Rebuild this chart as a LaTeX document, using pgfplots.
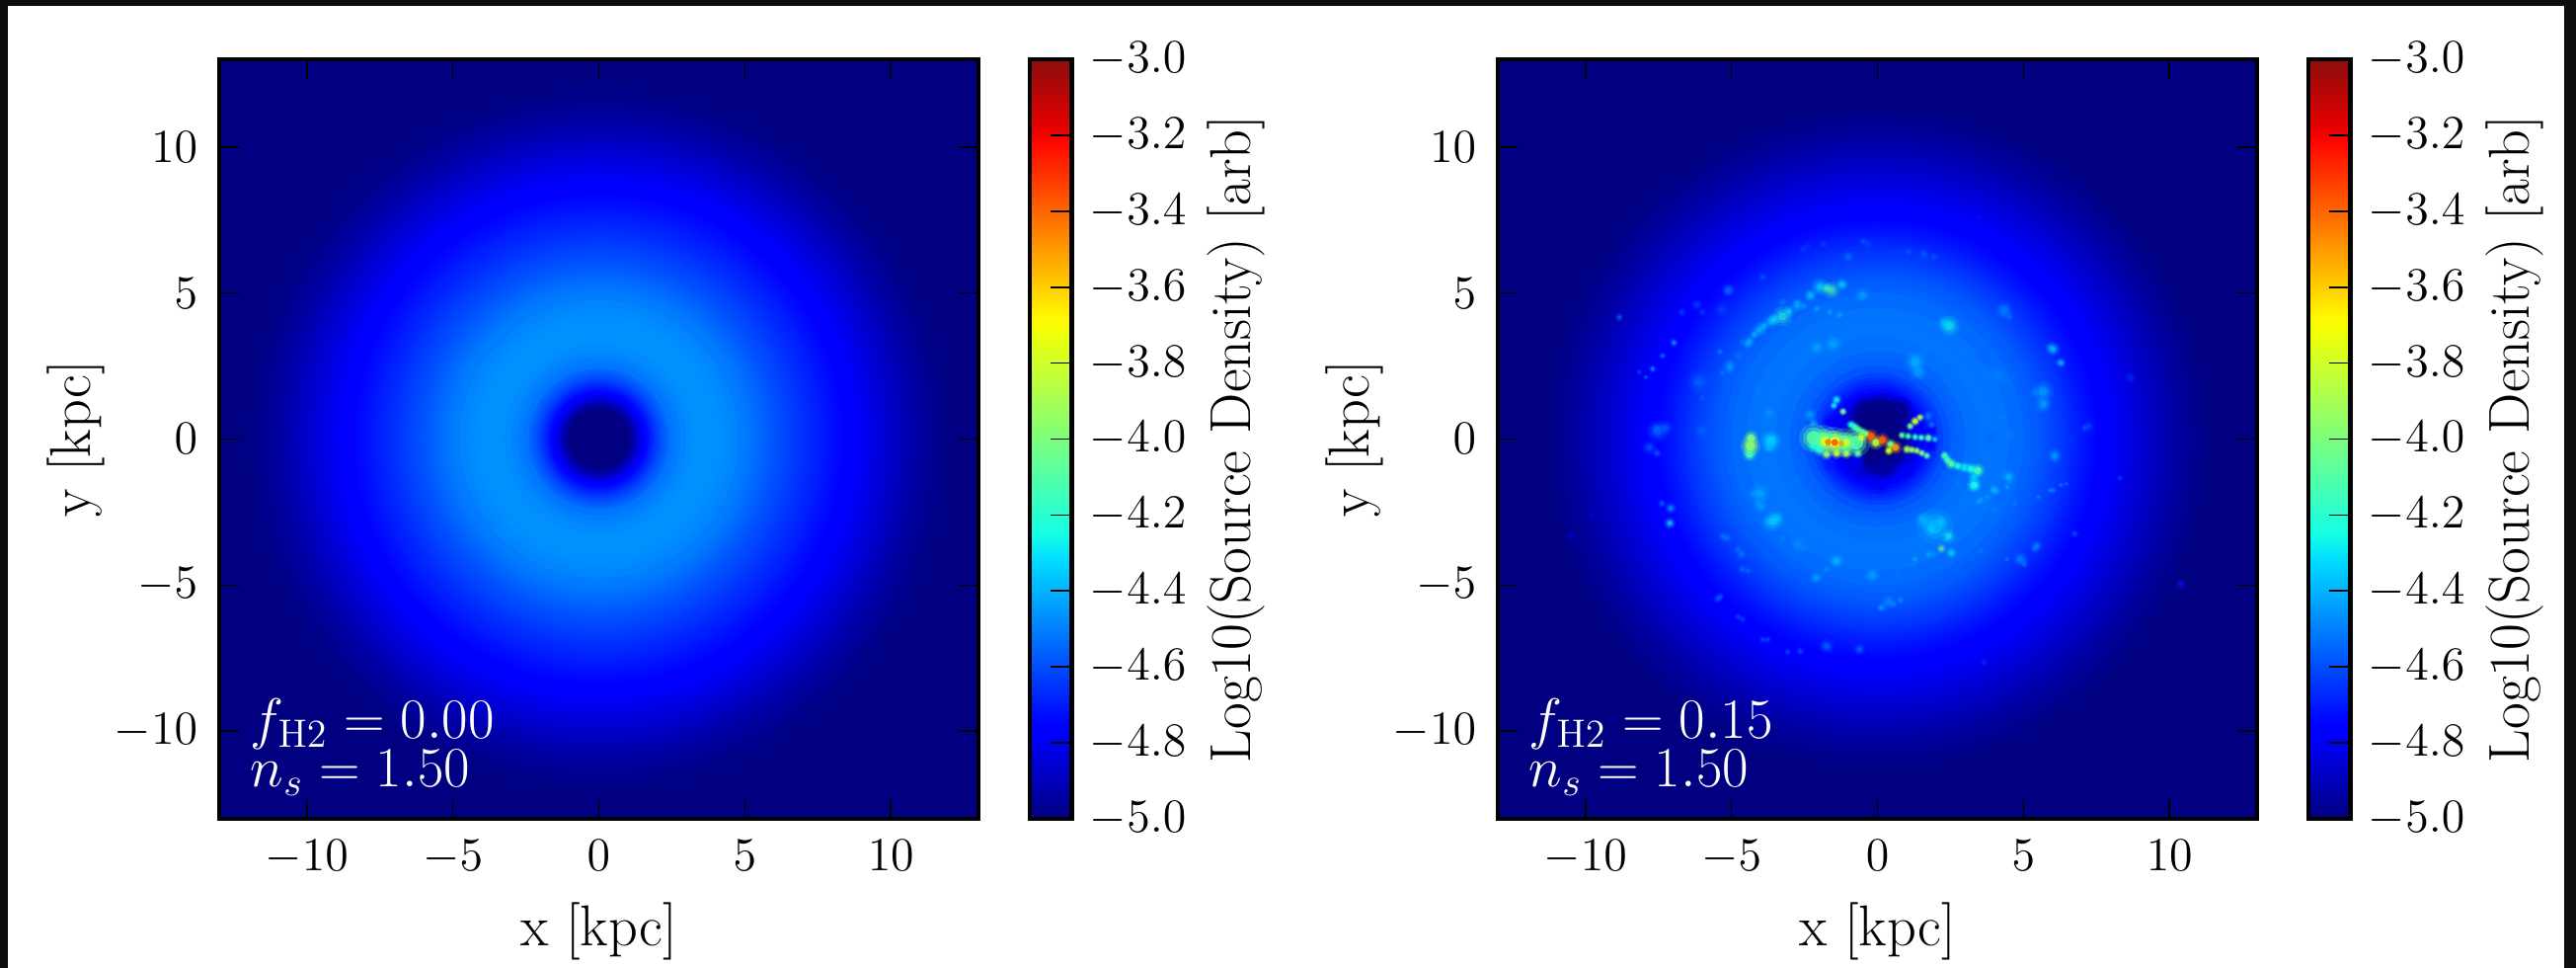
\documentclass[border=0pt]{standalone}
\usepackage{pgfplots}
\usepackage{pgfplotstable}
\pgfplotsset{compat=1.18}
\definecolor{edgedark}{RGB}{14,14,14}
\definecolor{jetlow}{rgb}{0,0,.5}
\pgfplotsset{colormap={mjet}{
 rgb(0cm)=(0,0,.5) rgb(11cm)=(0,0,1) rgb(12.5cm)=(0,0,1) rgb(34cm)=(0,.86,1)
 rgb(37.5cm)=(.08,1,.9) rgb(64cm)=(.94,1,.03) rgb(66cm)=(1,.97,0)
 rgb(89cm)=(1,.03,0) rgb(91cm)=(.91,0,0) rgb(100cm)=(.55,.05,.05)}}
\pgfplotstableread{
x y r v
0 0 12.25 -4.995
0 0 12.125 -4.992
0 0 12 -4.988
0 0 11.875 -4.984
0 0 11.75 -4.98
0 0 11.625 -4.975
0 0 11.5 -4.97
0 0 11.375 -4.962
0 0 11.25 -4.955
0 0 11.125 -4.948
0 0 11 -4.94
0 0 10.875 -4.932
0 0 10.75 -4.925
0 0 10.625 -4.915
0 0 10.5 -4.905
0 0 10.375 -4.895
0 0 10.25 -4.885
0 0 10.125 -4.875
0 0 10 -4.865
0 0 9.875 -4.857
0 0 9.75 -4.85
0 0 9.625 -4.84
0 0 9.5 -4.83
0 0 9.375 -4.82
0 0 9.25 -4.81
0 0 9.125 -4.80
0 0 9 -4.79
0 0 8.875 -4.78
0 0 8.75 -4.77
0 0 8.625 -4.762
0 0 8.5 -4.755
0 0 8.375 -4.745
0 0 8.25 -4.735
0 0 8.125 -4.727
0 0 8 -4.72
0 0 7.875 -4.71
0 0 7.75 -4.70
0 0 7.625 -4.692
0 0 7.5 -4.685
0 0 7.375 -4.677
0 0 7.25 -4.67
0 0 7.125 -4.66
0 0 7 -4.65
0 0 6.875 -4.642
0 0 6.75 -4.635
0 0 6.625 -4.625
0 0 6.5 -4.615
0 0 6.375 -4.607
0 0 6.25 -4.60
0 0 6.125 -4.59
0 0 6 -4.58
0 0 5.875 -4.57
0 0 5.75 -4.56
0 0 5.625 -4.55
0 0 5.5 -4.54
0 0 5.375 -4.53
0 0 5.25 -4.52
0 0 5.125 -4.512
0 0 5 -4.505
0 0 4.75 -4.49
0 0 4.5 -4.48
0 0 4.25 -4.47
0 0 4 -4.465
0 0 3.5 -4.465
0 0 3.25 -4.475
0 0 3 -4.49
0 0 2.8 -4.505
0 0 2.6 -4.52
0 0 2.4 -4.55
0 0 2.3 -4.57
0 0 2.2 -4.59
0 0 2.1 -4.615
0 0 2 -4.64
0 0 1.9 -4.67
0 0 1.8 -4.70
0 0 1.7 -4.735
0 0 1.6 -4.77
0 0 1.5 -4.81
0 0 1.4 -4.85
0 0 1.3 -4.90
0 0 1.2 -4.94
0 0 1.1 -4.975
0 0 1.0 -5
}\ringsA
\pgfplotstableread{
x y r v
0 0 11.5 -4.995
0 0 11.25 -4.985
0 0 11.125 -4.98
0 0 11 -4.975
0 0 10.875 -4.97
0 0 10.75 -4.965
0 0 10.625 -4.958
0 0 10.5 -4.95
0 0 10.375 -4.943
0 0 10.25 -4.935
0 0 10.125 -4.927
0 0 10 -4.92
0 0 9.875 -4.91
0 0 9.75 -4.9
0 0 9.625 -4.892
0 0 9.5 -4.885
0 0 9.375 -4.875
0 0 9.25 -4.865
0 0 9.125 -4.857
0 0 9 -4.85
0 0 8.875 -4.84
0 0 8.75 -4.83
0 0 8.625 -4.822
0 0 8.5 -4.815
0 0 8.375 -4.805
0 0 8.25 -4.795
0 0 8.125 -4.787
0 0 8 -4.78
0 0 7.875 -4.77
0 0 7.75 -4.76
0 0 7.625 -4.75
0 0 7.5 -4.74
0 0 7.375 -4.73
0 0 7.25 -4.72
0 0 7.125 -4.71
0 0 7 -4.70
0 0 6.875 -4.687
0 0 6.75 -4.675
0 0 6.625 -4.662
0 0 6.5 -4.65
0 0 6.375 -4.64
0 0 6.25 -4.63
0 0 6.125 -4.62
0 0 6 -4.61
0 0 5.875 -4.60
0 0 5.75 -4.59
0 0 5.625 -4.58
0 0 5.5 -4.57
0 0 5.25 -4.555
0 0 5 -4.54
0 0 4.5 -4.525
0 0 4 -4.52
0 0 3.5 -4.53
0 0 3 -4.55
0 0 2.75 -4.56
0 0 2.5 -4.585
0 0 2.25 -4.62
0 0 2.1 -4.65
0 0 2 -4.67
0 0 1.875 -4.70
0 0 1.75 -4.73
0 0 1.625 -4.765
0 0 1.5 -4.80
0 0 1.375 -4.84
0 0 1.25 -4.88
0 0 1.125 -4.92
0 0 1 -4.96
0 0 .875 -4.985
0 0 .75 -5
}\ringsB
\pgfplotstableread{
x y v s
-1.63 .55 -4.75 1.8
-1.12 .49 -4.75 1.3
1.29 .33 -4.75 1.6
1.85 .27 -4.75 1.3
1.85 -.24 -4.75 1.3
-.73 -.74 -4.75 2.0
-1.63 -.85 -4.7 1.6
.17 -.97 -4.95 2.8
.96 -1.08 -4.8 2.0
.06 -1.53 -4.8 2.2
-.39 .94 -5 3.2
.17 1.0 -5 3.6
.73 .94 -5 3.2
}\gaps
\pgfplotstableread{
x y v s
-8.84 4.17 -4.5 .6
-9.79 -2.64 -4.8 .6
-10.5 -3.33 -4.85 .8
3.48 7.62 -4.7 .5
8.66 2.1 -4.65 .8
8.31 -1.34 -4.6 .5
10.38 -4.97 -4.7 .8
3.66 -7.64 -4.65 .6
1.93 6.24 -4.55 .6
1.07 6.41 -4.55 .6
-.48 6.76 -4.55 .6
-1.86 6.67 -4.6 .6
-2.55 6.5 -4.6 .6
-3.93 5.55 -4.55 .6
-5.14 5.03 -4.55 .6
-6 4.34 -4.6 .6
-6.69 4.34 -4.6 .6
-3.93 3.66 -4.5 .6
-3.24 4.69 -4.48 .6
-4.62 3.31 -4.5 .6
-5.31 2.28 -4.5 .6
-6.17 1.93 -4.55 .6
-6 1.41 -4.55 .6
-7.55 .38 -4.55 .7
-7.55 -.48 -4.55 .7
-7.38 -2.2 -4.5 .6
-5.31 -3.33 -4.5 .6
-4.62 -4.45 -4.5 .6
-5.48 -5.48 -4.55 .6
-4.62 -6.17 -4.55 .5
-3.93 -6.86 -4.55 .5
-3.07 -7.29 -4.55 .5
5.38 1.59 -4.48 .6
5.72 1.24 -4.45 .6
7.1 .38 -4.55 .6
6.07 -.66 -4.5 .6
4.52 -1.17 -4.5 .6
4 -1.69 -4.45 .6
4.69 -2.2 -4.5 .6
6.76 -3.24 -4.55 .6
5.38 -3.76 -4.5 .6
5.03 -4.28 -4.5 .6
3.66 2.28 -4.5 .6
4.17 2.1 -4.5 .6
2.97 2.97 -4.5 .6
5.9 3.14 -4.48 .6
6.24 2.62 -4.48 .6
4.52 4.17 -4.5 .6
-2.2 -4.79 -4.48 .6
-1.52 -4.19 -4.48 .6
-.31 -4.71 -4.48 .6
.55 -5.66 -4.48 .6
.21 -5.74 -4.48 .6
1.24 -4.28 -4.48 .6
1.93 -3.93 -4.45 .6
-4.28 -1.86 -4.45 .6
-4.1 -2.2 -4.45 .6
-3.76 -2.81 -4.45 .6
-3.24 -3.41 -4.48 .6
-2.55 -3.76 -4.48 .6
-1 6.24 -4.5 .8
-.31 6.67 -4.6 .7
-2.38 6.59 -4.65 .7
1.59 6.33 -4.55 .8
-5.14 5.12 -4.55 .8
4.34 4.34 -4.5 1.0
-6.97 3.30 -4.35 .6
-7.36 2.85 -4.45 .5
-7.70 2.40 -4.35 .5
-7.93 2.12 -4.5 .4
-8.15 2.29 -4.55 .4
-5.06 5.10 -4.55 .8
-5.34 4.43 -4.6 1.0
-6.18 4.60 -4.6 .8
4.33 4.43 -4.5 1.2
3.65 2.85 -4.55 1.5
3.99 2.29 -4.52 1.0
4.44 1.96 -4.52 .8
3.2 3.42 -4.55 .8
4.10 2.18 -4.5 1.5
5.67 1.62 -4.4 1.5
5.67 1.17 -4.42 1.2
7.25 .44 -4.6 .8
4.33 .72 -4.5 .9
4.49 .16 -4.5 1.0
3.88 .04 -4.55 1.0
6.07 -.57 -4.4 1.0
4.49 -1.30 -4.35 1.0
3.99 -1.75 -4.35 .7
3.54 -2.09 -4.4 .6
3.43 -2.15 -4.42 .5
3.76 -1.98 -4.42 .5
4.10 -1.81 -4.4 .5
4.44 -1.64 -4.4 .5
5.51 -1.98 -4.45 .4
5.90 -1.75 -4.45 .4
6.29 -1.57 -4.45 .4
6.01 -1.75 -4.45 .5
6.46 -1.53 -4.5 .4
3.99 -2.43 -4.5 .8
-5.06 2.52 -4.45 1.0
-5.06 2.40 -4.45 .7
-5.22 1.96 -4.55 .7
-4.77 2.85 -4.5 .7
-5.39 2.99 -4.45 .5
-6.12 1.96 -4.55 1.5
-4.10 1.67 -4.5 1.0
-3.71 .89 -4.45 1.0
-7.25 .38 -4.55 1.0
-7.81 -.29 -4.55 1.0
-7.53 .27 -4.5 1.5
-6.01 .27 -4.55 1.2
-4.04 -1.87 -4.4 1.4
-3.99 -2.31 -4.42 1.0
-3.60 -2.82 -4.3 1.4
-3.43 -2.71 -4.35 1.0
-7.08 -2.37 -4.4 .8
-7.11 -2.88 -4.25 .8
-5.17 -3.38 -4.5 .8
-4.78 -3.78 -4.5 .6
-4.66 -3.94 -4.5 .8
-4.44 -4.51 -4.5 .5
-2.75 -3.61 -4.45 1.0
-1.40 -4.17 -4.35 1.0
-1.74 -4.45 -4.45 .6
-2.08 -4.76 -4.4 .8
-.17 -4.65 -4.4 1.0
.67 -4.56 -4.5 .6
.39 -5.57 -4.45 1.0
.11 -5.78 -4.4 .6
.79 -5.52 -4.45 .6
-5.39 -5.40 -4.5 .6
-4.77 -6.08 -4.55 .5
-3.76 -6.87 -4.55 .5
-2.64 -7.26 -4.55 .6
-1.74 -7.09 -4.5 1.0
-.62 -7.20 -4.5 .8
1.97 -2.99 -4.35 2.5
1.63 -2.82 -4.4 1.2
1.52 -2.71 -4.4 .9
1.85 -3.10 -4.35 .9
2.19 -2.82 -4.35 .9
2.43 -3.33 -4.25 1.0
2.53 -3.89 -4.3 .8
1.74 -3.94 -4.4 .6
1.29 -4.11 -4.4 .5
2.19 -3.75 -4.0 .7
5.45 -3.66 -4.45 .8
4.89 -4.11 -4.45 1.0
4.44 -4.11 -4.5 .5
3.54 -3.83 -4.5 .5
-2.08 3.13 -4.4 1.0
-1.52 3.25 -4.4 1.2
1.29 2.63 -4.35 1.4
1.40 2.29 -4.4 1.2
1.57 3.02 -4.5 .8
2.30 3.98 -4.35 1.0
2.47 3.87 -4.25 1.4
6.01 3.08 -4.3 1.0
6.29 2.61 -4.35 .7
-1.97 5.21 -4.3 1.2
-1.24 5.30 -4.35 .8
-1.18 5.27 -4.35 .7
-1.74 5.16 -4.15 .8
-2.30 4.93 -4.35 .8
-2.75 4.65 -4.4 .7
-3.03 4.37 -4.3 .8
-3.54 4.09 -4.3 .8
-3.88 3.87 -4.35 .7
-4.21 3.58 -4.35 .7
-4.44 3.25 -4.4 .7
-2.53 4.56 -4.4 .6
-2.08 4.46 -4.4 .6
-1.63 4.35 -4.4 .6
-1.29 4.26 -4.4 .6
-2.30 4.88 -4.4 .8
-2.75 4.54 -4.4 .8
-3.65 4.03 -4.35 1.0
-4.04 3.75 -4.35 .9
-4.38 3.36 -4.4 .8
-.51 4.93 -4.4 1.0
-1.57 5.10 -4.1 1.2
-3.26 4.20 -4.2 1.4
-2.30 .83 -4.4 .9
-2.19 .55 -4.4 .7
1.74 .78 -4.45 .8
1.85 .49 -4.45 .6
}\blobs
\pgfplotstableread{
x y v s
-3.65 -.07 -4.35 1.4
-3.71 -.29 -4.4 .8
-4.33 .04 -4.0 1.0
-4.38 -.52 -4.15 1.0
-4.35 -.24 -3.95 1.4
2.30 -.57 -4.15 .7
2.40 -.72 -4.15 .7
2.53 -.85 -4.1 .8
2.75 -.92 -4.25 .7
2.98 -.97 -4.3 .8
3.20 -1.02 -4.25 .8
3.31 -1.30 -4.35 .8
3.31 -1.58 -4.25 1.0
3.43 -1.08 -4.15 1.0
-1.40 1.34 -4.3 .7
-1.49 1.15 -4.3 .6
-1.18 .94 -4.0 .6
-.90 .49 -4.25 .7
-.78 .41 -4.15 .7
-.67 .33 -4.1 .7
-.53 .25 -4.05 .7
-.39 .18 -4.0 .7
1.97 -.01 -4.35 .5
1.74 .04 -4.1 .7
1.50 .05 -4.15 .6
1.29 .07 -4.2 .6
1.05 .10 -4.15 .6
.84 .13 -4.1 .6
1.69 -.57 -4.1 .6
1.52 -.48 -4.0 .6
1.35 -.40 -3.95 .6
1.18 -.37 -3.9 .6
1.01 -.35 -3.9 .7
1.12 .44 -4.0 .6
1.46 .74 -3.9 .6
1.29 .61 -3.8 .7
-2.19 -.24 -4.25 .8
-1.97 -.35 -4.2 1.0
-2.19 .04 -4.1 2.0
-1.85 -.01 -4.1 2.0
-1.52 -.07 -4.1 2.0
-1.12 -.12 -4.1 2.0
-.73 -.12 -4.1 2.0
-.67 -.49 -4.1 .7
-1.74 -.52 -3.95 .8
-1.40 -.49 -3.85 .8
-1.07 -.49 -3.9 .8
-1.8 -.07 -3.75 1.4
-1.46 -.10 -3.7 1.6
-1.07 -.12 -3.8 1.2
-.06 -.12 -3.85 1.0
.45 -.18 -4 .8
.39 -.40 -3.75 .7
-.56 .04 -3.8 .8
-1.69 -.10 -3.42 .9
-1.46 -.12 -3.35 1.0
-1.24 -.15 -3.5 .8
-.22 .10 -3.4 1.0
.17 -.03 -3.4 1.0
.62 -.29 -3.5 .9
}\band
\tikzset{note/.style={anchor=base west, inner sep=0pt, text=white, font=\fontsize{17.4}{20}\selectfont}}
\pgfplotsset{
 panel/.style={
  scale only axis, width=230.7pt, height=230.7pt,
  xmin=-13, xmax=13, ymin=-13, ymax=13,
  xtick={-10,-5,...,10}, ytick={-10,-5,...,10},
  tick align=inside, major tick length=6pt,
  tick style={black, line width=.5pt},
  axis line style={black, line width=1.1pt},
  axis on top, axis background/.style={fill=jetlow},
  colormap name=mjet, point meta min=-5, point meta max=-3,
  tick label style={font=\fontsize{13.6}{15}\selectfont},
  label style={font=\fontsize{17.5}{20}\selectfont},
  xticklabel style={yshift=-3pt}, yticklabel style={xshift=-3pt},
  xlabel={x [kpc]}, ylabel={y [kpc]},
  xlabel style={at={(axis description cs:.5,-.148)},anchor=center},
  ylabel style={at={(axis description cs:-.1885,.5)},anchor=center},
  colorbar,
  colorbar shift/.style={xshift=15pt},
  colorbar style={
   width=12.8pt,
   ymin=-5, ymax=-3,
   ytick={-5,-4.8,...,-3.01,-3},
   tick align=inside, major tick length=6.5pt,
   ytick pos=right, yticklabel pos=right,
   tick style={black, line width=.5pt},
   axis line style={black, line width=1.3pt},
   yticklabel style={xshift=2pt, /pgf/number format/fixed, /pgf/number format/fixed zerofill, /pgf/number format/precision=1, font=\fontsize{13.6}{15}\selectfont},
   ylabel={Log10(Source Density)~[arb]},
   ylabel style={at={(axis description cs:4.9,.5)},anchor=center,font=\fontsize{17.5}{20}\selectfont},
  },
 },
 disc/.style={scatter, only marks, mark=*, point meta=\thisrow{v},
  visualization depends on={8.873*\thisrow{r} \as \ms},
  scatter/@pre marker code/.append style={/tikz/mark size=\ms},
  mark options={line width=0pt, draw opacity=0}},
 blob/.style n args={2}{scatter, only marks, mark=*, point meta=\thisrow{v},
  visualization depends on={#1*\thisrow{s} \as \ms},
  scatter/@pre marker code/.append style={/tikz/mark size=\ms},
  mark options={line width=0pt, draw opacity=0, fill opacity=#2}},
}
\begin{document}
\begin{tikzpicture}
\path[use as bounding box] (0,0) rectangle (782.7pt,294pt);
\fill[edgedark] (0,0) rectangle (782.7pt,294pt);
\fill[white] (2.5pt,0) rectangle (779pt,292.2pt);
\begin{axis}[panel, at={(66.6pt,45.3pt)}, anchor=south west,
  after end axis/.code={
   \node[note] at (axis cs:-11.95,-10.25) {$f_{\mathrm{H2}}=0.00$};
   \node[note] at (axis cs:-11.95,-11.9) {$n_s=1.50$};
  }]
\addplot[disc] table {\ringsA};
\end{axis}
\begin{axis}[panel, at={(455.1pt,45.3pt)}, anchor=south west,
  after end axis/.code={
   \node[note] at (axis cs:-11.95,-10.25) {$f_{\mathrm{H2}}=0.15$};
   \node[note] at (axis cs:-11.95,-11.9) {$n_s=1.50$};
  }]
\addplot[disc] table {\ringsB};
\addplot[blob={1.4}{.35}] table {\gaps};
\addplot[blob={.9}{.7}] table {\gaps};
\addplot[blob={2.2}{.15}] table {\blobs};
\addplot[blob={1.5}{.25}] table {\blobs};
\addplot[blob={.9}{.45}] table {\blobs};
\addplot[blob={2.2}{.22}] table {\band};
\addplot[blob={1.6}{.4}] table {\band};
\addplot[blob={1.05}{.85}] table {\band};
\end{axis}
\end{tikzpicture}
\end{document}
